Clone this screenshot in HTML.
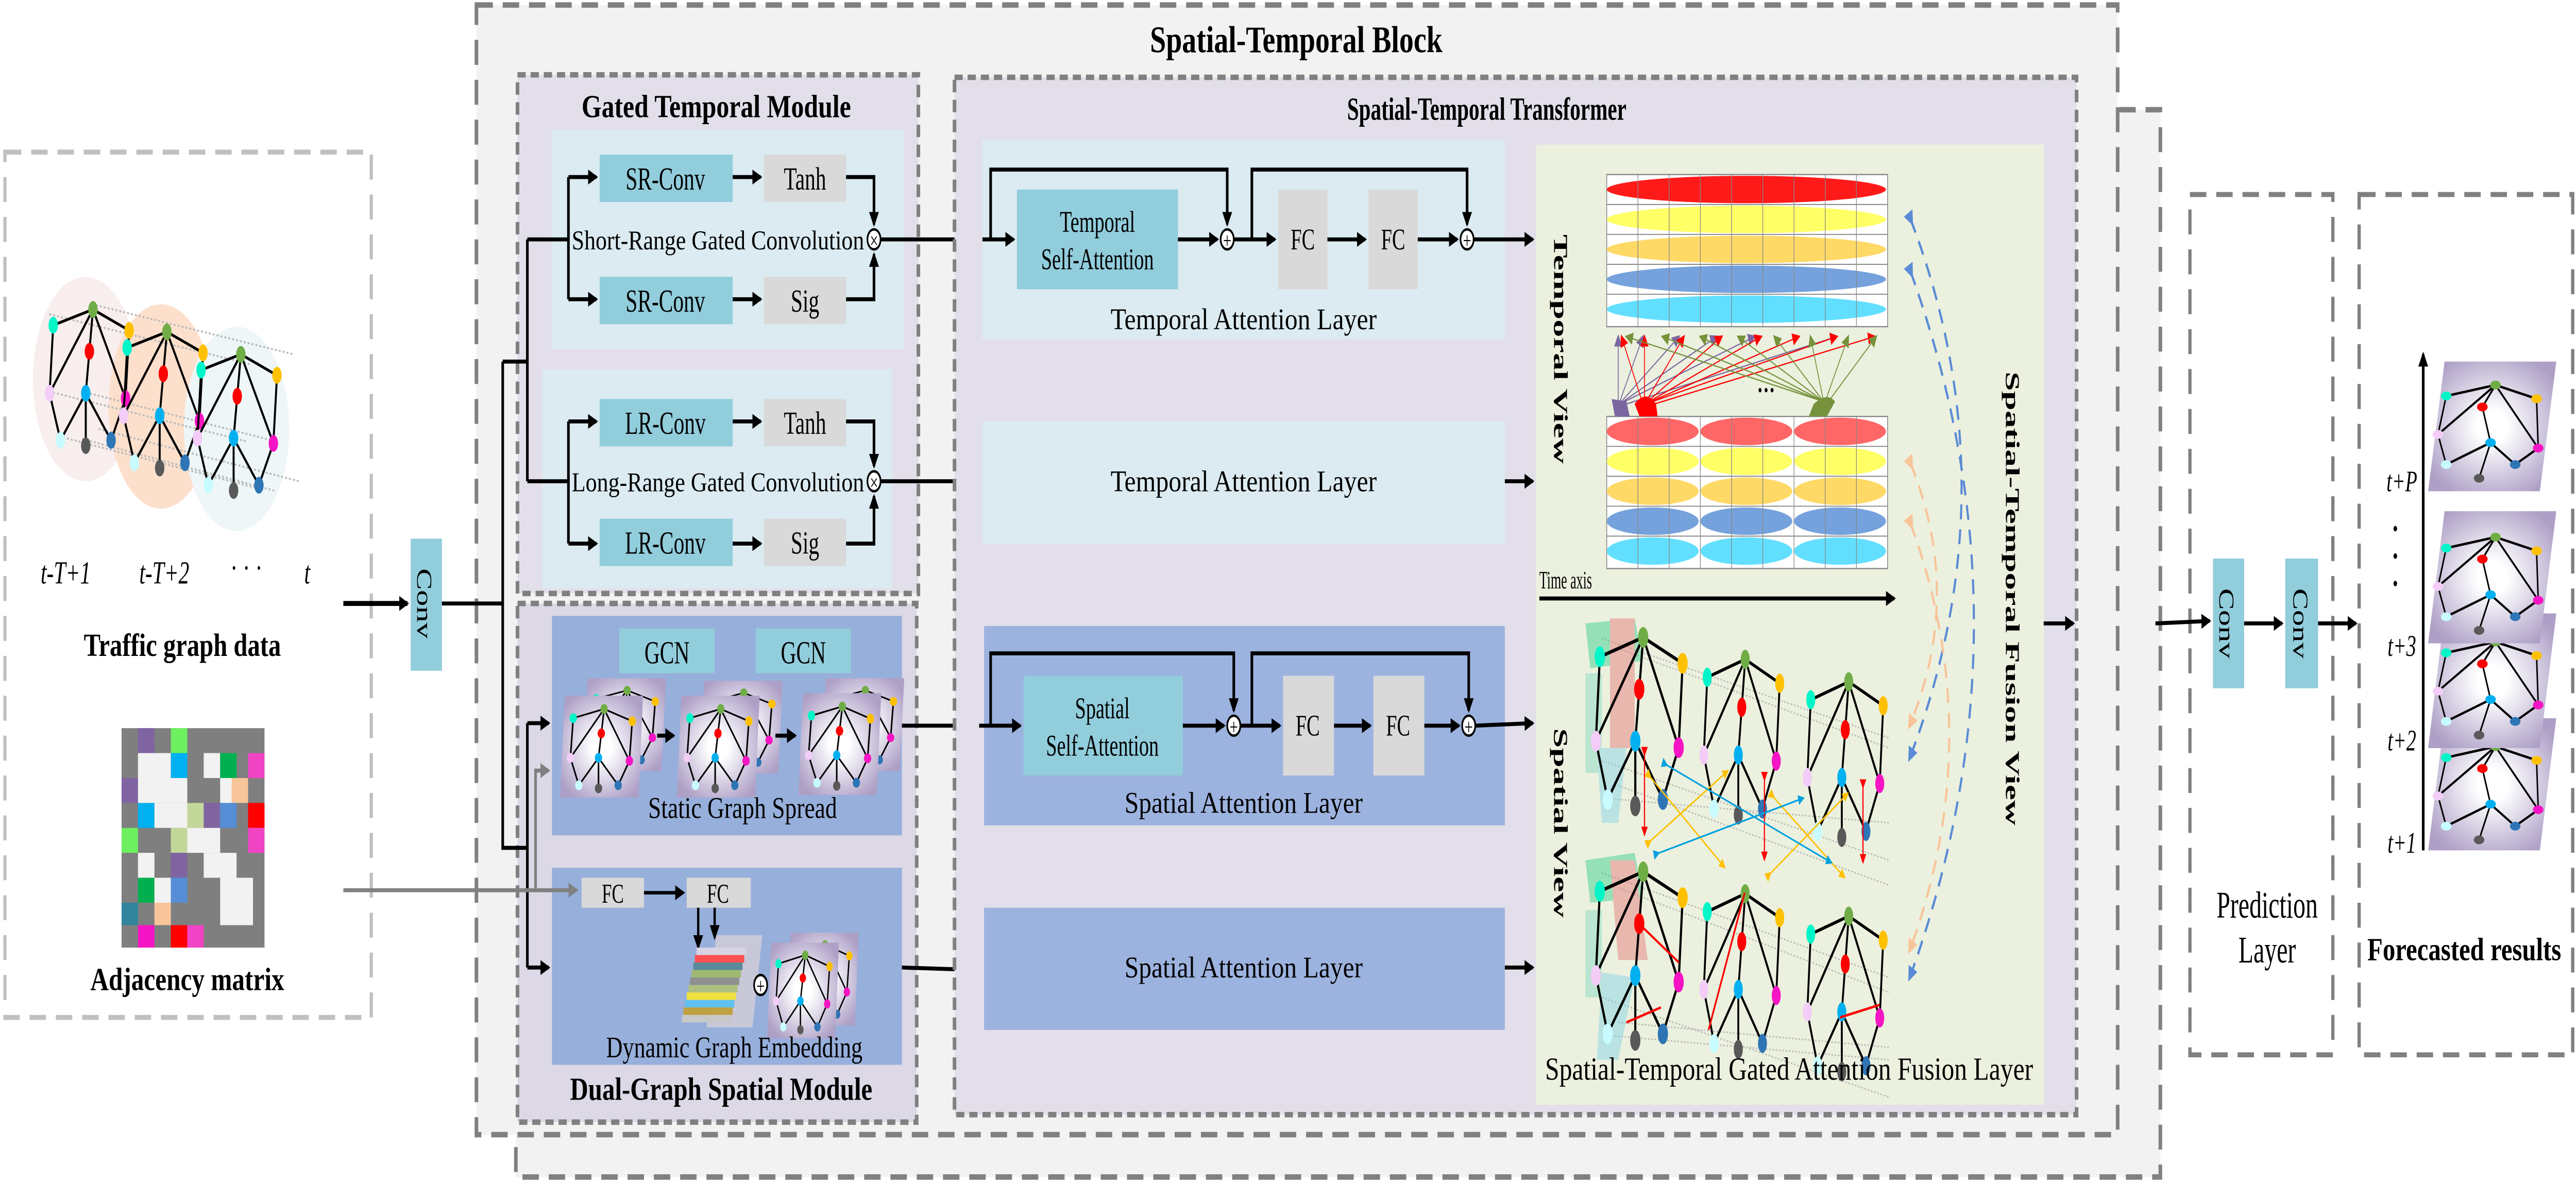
<!DOCTYPE html>
<html><head><meta charset="utf-8"><style>
html,body{margin:0;padding:0;background:#fff;width:100vw;height:100vh;overflow:hidden;}
svg{display:block;position:fixed;left:0;top:0;width:100vw;height:100vh;}
text{font-family:"Liberation Serif",serif;fill:#000;}
.b{font-weight:bold;}
</style></head><body>
<svg viewBox="0 0 1568 474" preserveAspectRatio="none" xmlns="http://www.w3.org/2000/svg">
<defs>
<marker id="ah" markerWidth="6" markerHeight="6" refX="5" refY="3" orient="auto" markerUnits="userSpaceOnUse"><path d="M0,0 L6,3 L0,6 z" fill="#000"/></marker>
<marker id="ahg" markerWidth="6" markerHeight="6" refX="5" refY="3" orient="auto" markerUnits="userSpaceOnUse"><path d="M0,0 L6,3 L0,6 z" fill="#808080"/></marker>
<marker id="ahr" markerWidth="4" markerHeight="4" refX="3.5" refY="2" orient="auto" markerUnits="userSpaceOnUse"><path d="M0,0 L4,2 L0,4 z" fill="#ff0000"/></marker>
<marker id="ahy" markerWidth="4" markerHeight="4" refX="3.5" refY="2" orient="auto" markerUnits="userSpaceOnUse"><path d="M0,0 L4,2 L0,4 z" fill="#ffc000"/></marker>
<marker id="ahc" markerWidth="4" markerHeight="4" refX="3.5" refY="2" orient="auto" markerUnits="userSpaceOnUse"><path d="M0,0 L4,2 L0,4 z" fill="#00a0e0"/></marker>
<marker id="ahb" markerWidth="6" markerHeight="6" refX="3" refY="3" orient="auto" markerUnits="userSpaceOnUse"><path d="M0,0 L6,3 L0,6 z" fill="#5b8bd6"/></marker>
<marker id="aho" markerWidth="6" markerHeight="6" refX="3" refY="3" orient="auto" markerUnits="userSpaceOnUse"><path d="M0,0 L6,3 L0,6 z" fill="#f8c49a"/></marker>
<marker id="ahp" markerWidth="5" markerHeight="5" refX="4" refY="2.5" orient="auto" markerUnits="userSpaceOnUse"><path d="M0,0 L5,2.5 L0,5 z" fill="#7b66a0"/></marker>
<marker id="ahrr" markerWidth="5" markerHeight="5" refX="4" refY="2.5" orient="auto" markerUnits="userSpaceOnUse"><path d="M0,0 L5,2.5 L0,5 z" fill="#ff0000"/></marker>
<marker id="ahgr" markerWidth="5" markerHeight="5" refX="4" refY="2.5" orient="auto" markerUnits="userSpaceOnUse"><path d="M0,0 L5,2.5 L0,5 z" fill="#76923c"/></marker>
<radialGradient id="card" cx="0.5" cy="0.5" r="0.6"><stop offset="0.2" stop-color="#ffffff"/><stop offset="1" stop-color="#ad9fc6"/></radialGradient>
<g id="G" stroke="#000" stroke-width="1.1" fill="none">
<path d="M4,8 L26,2 L46,10 M4,8 L2,34 M26,2 L2,34 M26,2 L24,18 L22,34 M26,2 L44,36 M46,10 L44,36 M2,34 L8,52 M22,34 L8,52 M22,34 L22,54 M22,34 L36,52 M44,36 L36,52"/>
<g stroke="none">
<ellipse cx="4" cy="8" rx="2.6" ry="3.2" fill="#00f5c8"/><ellipse cx="26" cy="2" rx="2.6" ry="3.2" fill="#70ad47"/><ellipse cx="46" cy="10" rx="2.6" ry="3.2" fill="#ffc000"/><ellipse cx="24" cy="18" rx="2.6" ry="3.2" fill="#ff0000"/><ellipse cx="2" cy="34" rx="2.6" ry="3.2" fill="#f3ccf7"/><ellipse cx="22" cy="34" rx="2.6" ry="3.2" fill="#00b0f0"/><ellipse cx="44" cy="36" rx="2.6" ry="3.2" fill="#f615c4"/><ellipse cx="8" cy="52" rx="2.6" ry="3.2" fill="#c8fbff"/><ellipse cx="22" cy="54" rx="2.6" ry="3.2" fill="#595959"/><ellipse cx="36" cy="52" rx="2.6" ry="3.2" fill="#2e75b6"/>
</g></g>
<g id="FG" stroke="#000" stroke-width="0.9" fill="none">
<path d="M10,8 L40,4 L65,9 M10,8 L5,22 L10,33 L37,25 L30,38 M40,4 L5,22 M40,4 L32,12 L37,25 L52,33 L66,27 L65,9 M40,4 L66,27"/>
<g stroke="none"><ellipse cx="10" cy="8" rx="3.2" ry="1.6" fill="#00f5c8"/><ellipse cx="40" cy="4" rx="3.2" ry="1.6" fill="#70ad47"/><ellipse cx="65" cy="9" rx="3.2" ry="1.6" fill="#ffc000"/><ellipse cx="32" cy="12" rx="3.2" ry="1.6" fill="#ff0000"/><ellipse cx="5" cy="22" rx="3.2" ry="1.6" fill="#f3ccf7"/><ellipse cx="37" cy="25" rx="3.2" ry="1.6" fill="#00b0f0"/><ellipse cx="66" cy="27" rx="3.2" ry="1.6" fill="#f615c4"/><ellipse cx="10" cy="33" rx="3.2" ry="1.6" fill="#c8fbff"/><ellipse cx="30" cy="38" rx="3.2" ry="1.6" fill="#595959"/><ellipse cx="52" cy="33" rx="3.2" ry="1.6" fill="#2e75b6"/></g></g>
<g id="CARD"><polygon points="3,0 56,0 53,60 0,60" fill="url(#card)"/><use href="#G" transform="translate(5,6) scale(0.95,0.9)"/></g>
</defs>

<rect x="314" y="44" width="1001" height="428" fill="#f2f2f2" stroke="#808080" stroke-width="2.2" stroke-dasharray="10,6"/>
<rect x="290" y="2" width="999" height="453" fill="#f2f2f2" stroke="#808080" stroke-width="2.2" stroke-dasharray="10,6"/>
<text x="789" y="21" font-size="15" class="b" text-anchor="middle" textLength="178" lengthAdjust="spacingAndGlyphs">Spatial-Temporal Block</text>

<rect x="3" y="61" width="223" height="347" fill="#fff" stroke="#c0c0c0" stroke-width="2" stroke-dasharray="10,6"/>
<ellipse cx="52" cy="152" rx="32" ry="41" fill="#f9eeee"/>
<ellipse cx="98" cy="163" rx="32" ry="41" fill="#fde0cc"/>
<ellipse cx="144" cy="172" rx="32" ry="41" fill="#eef6f8"/>
<g stroke="#bbb" stroke-width="0.8" stroke-dasharray="1.2,1.2">
<line x1="30" y1="126" x2="152" y2="146"/><line x1="56" y1="122" x2="178" y2="142"/><line x1="30" y1="157" x2="150" y2="177"/><line x1="50" y1="157" x2="168" y2="177"/><line x1="36" y1="175" x2="158" y2="196"/><line x1="50" y1="176" x2="168" y2="197"/><line x1="60" y1="172" x2="182" y2="193"/>
</g>
<use href="#G" transform="translate(28,122) scale(1.1,1.05)"/>
<use href="#G" transform="translate(73,131) scale(1.1,1.05)"/>
<use href="#G" transform="translate(118,140) scale(1.1,1.05)"/>
<text x="40" y="234" font-size="13" font-style="italic" text-anchor="middle">t-T+1</text>
<text x="100" y="234" font-size="13" font-style="italic" text-anchor="middle">t-T+2</text>
<text x="150" y="232" font-size="13" text-anchor="middle">· · ·</text>
<text x="187" y="234" font-size="13" font-style="italic" text-anchor="middle">t</text>
<text x="111" y="263" font-size="13" class="b" text-anchor="middle" textLength="120" lengthAdjust="spacingAndGlyphs">Traffic graph data</text>
<g>
<rect x="74" y="292" width="87" height="88" fill="#7f7f7f"/>
<rect x="84" y="292" width="10" height="10" fill="#8064a2"/><rect x="104" y="292" width="10" height="10" fill="#6ef060"/>
<rect x="84" y="302" width="20" height="10" fill="#f2f2f2"/><rect x="104" y="302" width="10" height="10" fill="#00b0f0"/><rect x="124" y="302" width="10" height="10" fill="#f2f2f2"/><rect x="134" y="302" width="10" height="10" fill="#00b050"/><rect x="151" y="302" width="10" height="10" fill="#f044c4"/>
<rect x="74" y="312" width="10" height="10" fill="#8064a2"/><rect x="84" y="312" width="30" height="10" fill="#f2f2f2"/><rect x="134" y="312" width="10" height="10" fill="#f2f2f2"/><rect x="141" y="312" width="10" height="10" fill="#f8c49a"/>
<rect x="84" y="322" width="10" height="10" fill="#00b0f0"/><rect x="94" y="322" width="20" height="10" fill="#f2f2f2"/><rect x="114" y="322" width="10" height="10" fill="#c4d79b"/><rect x="124" y="322" width="10" height="10" fill="#8064a2"/><rect x="134" y="322" width="10" height="10" fill="#558ed5"/><rect x="151" y="322" width="10" height="10" fill="#ff0000"/>
<rect x="74" y="332" width="10" height="10" fill="#6ef060"/><rect x="104" y="332" width="10" height="10" fill="#c4d79b"/><rect x="114" y="332" width="20" height="10" fill="#f2f2f2"/><rect x="151" y="332" width="10" height="10" fill="#f044c4"/>
<rect x="84" y="342" width="10" height="10" fill="#f2f2f2"/><rect x="104" y="342" width="10" height="10" fill="#8064a2"/><rect x="124" y="342" width="20" height="10" fill="#f2f2f2"/>
<rect x="84" y="352" width="10" height="10" fill="#00b050"/><rect x="94" y="352" width="10" height="10" fill="#f2f2f2"/><rect x="104" y="352" width="10" height="10" fill="#558ed5"/><rect x="134" y="352" width="20" height="10" fill="#f2f2f2"/>
<rect x="74" y="362" width="10" height="9" fill="#31859c"/><rect x="94" y="362" width="10" height="9" fill="#f8c49a"/><rect x="134" y="362" width="20" height="9" fill="#f2f2f2"/>
<rect x="84" y="371" width="10" height="9" fill="#f615c4"/><rect x="104" y="371" width="10" height="9" fill="#ff0000"/><rect x="114" y="371" width="10" height="9" fill="#f044c4"/>
</g>
<text x="114" y="397" font-size="13" class="b" text-anchor="middle" textLength="118" lengthAdjust="spacingAndGlyphs">Adjacency matrix</text>

<line x1="209" y1="242" x2="248" y2="242" stroke="#000" stroke-width="2" marker-end="url(#ah)"/>
<rect x="250" y="216" width="19" height="53" fill="#92cddc"/>
<text transform="translate(254,242) rotate(90)" font-size="13" text-anchor="middle">Conv</text>
<rect x="315" y="30" width="244" height="208" fill="#e3dfea" stroke="#808080" stroke-width="2.2" stroke-dasharray="5,3"/>
<text x="436" y="47" font-size="13" class="b" text-anchor="middle" textLength="164" lengthAdjust="spacingAndGlyphs">Gated Temporal Module</text>
<rect x="336" y="52" width="214" height="88" fill="#dbebf1"/>
<rect x="330" y="148" width="213" height="88" fill="#dbebf1"/>
<rect x="315" y="242" width="243" height="208" fill="#dcd8e6" stroke="#808080" stroke-width="2.2" stroke-dasharray="5,3"/>
<rect x="336" y="247" width="213" height="88" fill="#97afdb"/>
<rect x="336" y="348" width="213" height="79" fill="#97afdb"/>
<text x="439" y="441" font-size="13" class="b" text-anchor="middle" textLength="184" lengthAdjust="spacingAndGlyphs">Dual-Graph Spatial Module</text>

<g font-size="13">
<rect x="365" y="62" width="81" height="19" fill="#92cddc"/><text x="405" y="76" text-anchor="middle">SR-Conv</text>
<rect x="465" y="62" width="50" height="19" fill="#d9d9d9"/><text x="490" y="76" text-anchor="middle">Tanh</text>
<rect x="365" y="111" width="81" height="19" fill="#92cddc"/><text x="405" y="125" text-anchor="middle">SR-Conv</text>
<rect x="465" y="111" width="50" height="19" fill="#d9d9d9"/><text x="490" y="125" text-anchor="middle">Sig</text>
<text x="348" y="100" font-size="11" textLength="178" lengthAdjust="spacingAndGlyphs">Short-Range Gated Convolution</text>
<rect x="365" y="160" width="81" height="19" fill="#92cddc"/><text x="405" y="174" text-anchor="middle">LR-Conv</text>
<rect x="465" y="160" width="50" height="19" fill="#d9d9d9"/><text x="490" y="174" text-anchor="middle">Tanh</text>
<rect x="365" y="208" width="81" height="19" fill="#92cddc"/><text x="405" y="222" text-anchor="middle">LR-Conv</text>
<rect x="465" y="208" width="50" height="19" fill="#d9d9d9"/><text x="490" y="222" text-anchor="middle">Sig</text>
<text x="348" y="197" font-size="11" textLength="178" lengthAdjust="spacingAndGlyphs">Long-Range Gated Convolution</text>
</g>
<g stroke="#000" stroke-width="1.6" fill="none">
<path d="M346,71 L346,120" /><path d="M346,71 L363,71" marker-end="url(#ah)"/><path d="M346,120 L363,120" marker-end="url(#ah)"/>
<path d="M446,71 L463,71" marker-end="url(#ah)"/><path d="M446,120 L463,120" marker-end="url(#ah)"/>
<path d="M515,71 L532,71 L532,90" marker-end="url(#ah)"/><path d="M515,120 L532,120 L532,102" marker-end="url(#ah)"/>
<path d="M346,169 L346,218"/><path d="M346,169 L363,169" marker-end="url(#ah)"/><path d="M346,218 L363,218" marker-end="url(#ah)"/>
<path d="M446,169 L463,169" marker-end="url(#ah)"/><path d="M446,218 L463,218" marker-end="url(#ah)"/>
<path d="M515,169 L532,169 L532,187" marker-end="url(#ah)"/><path d="M515,218 L532,218 L532,199" marker-end="url(#ah)"/>
<path d="M269,242 L306,242"/><path d="M306,145 L306,340 L321,340"/><path d="M306,145 L321,145"/><path d="M321,96 L321,193"/><path d="M321,96 L346,96"/><path d="M321,193 L346,193"/>
<path d="M321,290 L321,388"/><path d="M321,290 L334,290" marker-end="url(#ah)"/><path d="M321,388 L334,388" marker-end="url(#ah)"/>
<path d="M536,96 L596,96" marker-end="url(#ah)"/><path d="M536,193 L596,193" marker-end="url(#ah)"/>
</g>
<circle cx="532" cy="96" r="4" fill="#fff" stroke="#000" stroke-width="1"/><text x="532" y="99.5" font-size="9" text-anchor="middle">×</text>
<circle cx="532" cy="193" r="4" fill="#fff" stroke="#000" stroke-width="1"/><text x="532" y="196.5" font-size="9" text-anchor="middle">×</text>
<g stroke="#808080" stroke-width="1.6" fill="none">
<path d="M209,357 L351,357" marker-end="url(#ahg)"/><path d="M326,357 L326,309 L334,309" marker-end="url(#ahg)"/>
</g>

<rect x="377" y="252" width="58" height="18" fill="#92cddc"/><text x="406" y="266" font-size="13" text-anchor="middle">GCN</text>
<rect x="460" y="252" width="58" height="18" fill="#92cddc"/><text x="489" y="266" font-size="13" text-anchor="middle">GCN</text>
<g transform="translate(355,272) scale(0.9,0.62)"><use href="#CARD"/></g>
<g transform="translate(341,279) scale(0.9,0.68)"><use href="#CARD"/></g>
<g transform="translate(426,273) scale(0.9,0.62)"><use href="#CARD"/></g>
<g transform="translate(412,279) scale(0.9,0.68)"><use href="#CARD"/></g>
<g transform="translate(500,272) scale(0.9,0.62)"><use href="#CARD"/></g>
<g transform="translate(486,278) scale(0.9,0.68)"><use href="#CARD"/></g>
<g stroke="#000" stroke-width="1.6"><path d="M400,295 L410,295" marker-end="url(#ah)"/><path d="M472,295 L484,295" marker-end="url(#ah)"/></g>
<text x="452" y="328" font-size="12" text-anchor="middle" textLength="115" lengthAdjust="spacingAndGlyphs">Static  Graph Spread</text>
<line x1="549" y1="291" x2="596" y2="291" stroke="#000" stroke-width="1.6" marker-end="url(#ah)"/>
<rect x="354" y="352" width="38" height="12" fill="#d9d9d9"/><text x="373" y="362" font-size="11" text-anchor="middle">FC</text>
<rect x="418" y="352" width="39" height="12" fill="#d9d9d9"/><text x="437" y="362" font-size="11" text-anchor="middle">FC</text>
<g stroke="#000" stroke-width="1.4"><path d="M392,358 L416,358" marker-end="url(#ah)"/><path d="M425,364 L425,380" marker-end="url(#ah)"/><path d="M435,364 L435,376" marker-end="url(#ah)"/></g>
<g>
<polygon points="436,375 464,375 458,412 430,412" fill="#c8c8d8"/>
<rect x="424" y="380" width="30" height="3" fill="#d8d4e4"/><rect x="423" y="383" width="30" height="3" fill="#ff5050"/><rect x="422" y="386" width="30" height="3" fill="#5a8a9a"/><rect x="421" y="389" width="30" height="3" fill="#9fb870"/><rect x="420" y="392" width="30" height="3" fill="#909090"/><rect x="419" y="395" width="30" height="3" fill="#aec080"/><rect x="418" y="398" width="30" height="3" fill="#f0e040"/><rect x="417" y="401" width="30" height="3" fill="#60c0f0"/><rect x="416" y="404" width="30" height="3" fill="#c0a040"/><rect x="415" y="407" width="30" height="3" fill="#c8c8c8"/>
</g>
<g transform="translate(479,374) scale(0.78,0.62)"><use href="#CARD"/></g>
<g transform="translate(467,378) scale(0.78,0.64)"><use href="#CARD"/></g>
<circle cx="463" cy="395" r="4" fill="#fff" stroke="#000" stroke-width="1"/><text x="463" y="398.5" font-size="9" text-anchor="middle">+</text>
<text x="447" y="424" font-size="12" text-anchor="middle" textLength="156" lengthAdjust="spacingAndGlyphs">Dynamic Graph Embedding</text>
<line x1="549" y1="388" x2="596" y2="389" stroke="#000" stroke-width="1.6" marker-end="url(#ah)"/>

<rect x="581" y="31" width="683" height="416" fill="#e3dfea" stroke="#808080" stroke-width="2.2" stroke-dasharray="5,3"/>
<text x="905" y="48" font-size="13" class="b" text-anchor="middle" textLength="170" lengthAdjust="spacingAndGlyphs">Spatial-Temporal Transformer</text>
<rect x="598" y="56" width="318" height="80" fill="#dbebf1"/>
<rect x="598" y="169" width="318" height="49" fill="#dbebf1"/>
<rect x="599" y="251" width="317" height="80" fill="#9db3df"/>
<rect x="599" y="364" width="317" height="49" fill="#9db3df"/>
<rect x="619" y="76" width="98" height="40" fill="#92cddc"/>
<text x="668" y="93" font-size="12" text-anchor="middle">Temporal</text><text x="668" y="108" font-size="12" text-anchor="middle">Self-Attention</text>
<rect x="778" y="76" width="30" height="40" fill="#d9d9d9"/><text x="793" y="100" font-size="12" text-anchor="middle">FC</text>
<rect x="833" y="76" width="30" height="40" fill="#d9d9d9"/><text x="848" y="100" font-size="12" text-anchor="middle">FC</text>
<g stroke="#000" stroke-width="1.6" fill="none">
<path d="M598,96 L617,96" marker-end="url(#ah)"/><path d="M603,96 L603,68 L747,68 L747,90" marker-end="url(#ah)"/>
<path d="M717,96 L741,96" marker-end="url(#ah)"/><path d="M751,96 L776,96" marker-end="url(#ah)"/><path d="M808,96 L831,96" marker-end="url(#ah)"/><path d="M863,96 L887,96" marker-end="url(#ah)"/>
<path d="M762,96 L762,68 L893,68 L893,90" marker-end="url(#ah)"/><path d="M897,96 L933,96" marker-end="url(#ah)"/>
<path d="M916,193 L933,193" marker-end="url(#ah)"/>
</g>
<circle cx="747" cy="96" r="4" fill="#fff" stroke="#000" stroke-width="1"/><text x="747" y="99.5" font-size="9" text-anchor="middle">+</text>
<circle cx="893" cy="96" r="4" fill="#fff" stroke="#000" stroke-width="1"/><text x="893" y="99.5" font-size="9" text-anchor="middle">+</text>
<text x="757" y="132" font-size="12" text-anchor="middle" textLength="162" lengthAdjust="spacingAndGlyphs">Temporal Attention Layer</text>
<text x="757" y="197" font-size="12" text-anchor="middle" textLength="162" lengthAdjust="spacingAndGlyphs">Temporal Attention Layer</text>
<rect x="623" y="271" width="97" height="40" fill="#92cddc"/>
<text x="671" y="288" font-size="12" text-anchor="middle">Spatial</text><text x="671" y="303" font-size="12" text-anchor="middle">Self-Attention</text>
<rect x="781" y="271" width="31" height="40" fill="#d9d9d9"/><text x="796" y="295" font-size="12" text-anchor="middle">FC</text>
<rect x="836" y="271" width="31" height="40" fill="#d9d9d9"/><text x="851" y="295" font-size="12" text-anchor="middle">FC</text>
<g stroke="#000" stroke-width="1.6" fill="none">
<path d="M596,291 L621,291" marker-end="url(#ah)"/><path d="M603,291 L603,262 L751,262 L751,285" marker-end="url(#ah)"/>
<path d="M720,291 L745,291" marker-end="url(#ah)"/><path d="M755,291 L779,291" marker-end="url(#ah)"/><path d="M812,291 L834,291" marker-end="url(#ah)"/><path d="M867,291 L888,291" marker-end="url(#ah)"/>
<path d="M762,291 L762,262 L894,262 L894,285" marker-end="url(#ah)"/><path d="M898,291 L933,290" marker-end="url(#ah)"/>
<path d="M916,388 L933,388" marker-end="url(#ah)"/>
</g>
<circle cx="751" cy="291" r="4" fill="#fff" stroke="#000" stroke-width="1"/><text x="751" y="294.5" font-size="9" text-anchor="middle">+</text>
<circle cx="894" cy="291" r="4" fill="#fff" stroke="#000" stroke-width="1"/><text x="894" y="294.5" font-size="9" text-anchor="middle">+</text>
<text x="757" y="326" font-size="12" text-anchor="middle" textLength="145" lengthAdjust="spacingAndGlyphs">Spatial Attention Layer</text>
<text x="757" y="392" font-size="12" text-anchor="middle" textLength="145" lengthAdjust="spacingAndGlyphs">Spatial Attention Layer</text>

<rect x="935" y="58" width="309" height="385" fill="#ebf1de"/>
<rect x="978" y="70" width="171" height="61" fill="#fff" stroke="#888" stroke-width="0.5"/>
<ellipse cx="1063" cy="76" rx="85" ry="5.5" fill="#ff1a1a"/>
<ellipse cx="1063" cy="88" rx="85" ry="5.5" fill="#ffff66"/>
<ellipse cx="1063" cy="100" rx="85" ry="5.5" fill="#ffd966"/>
<ellipse cx="1063" cy="112" rx="85" ry="5.5" fill="#75a2dc"/>
<ellipse cx="1063" cy="124" rx="85" ry="5.5" fill="#62dfff"/>
<g stroke="#888" stroke-width="0.4" fill="none">
<path d="M978,82 H1149 M978,94 H1149 M978,106 H1149 M978,118 H1149"/>
<path d="M997,70 V131 M1016,70 V131 M1035,70 V131 M1054,70 V131 M1073,70 V131 M1092,70 V131 M1111,70 V131 M1130,70 V131"/>
</g>
<rect x="978" y="167" width="171" height="61" fill="#fff" stroke="#888" stroke-width="0.5"/>
<g>
<ellipse cx="1006" cy="173" rx="28" ry="5.5" fill="#ff6666"/><ellipse cx="1063" cy="173" rx="28" ry="5.5" fill="#ff6666"/><ellipse cx="1120" cy="173" rx="28" ry="5.5" fill="#ff6666"/>
<ellipse cx="1006" cy="185" rx="28" ry="5.5" fill="#ffff66"/><ellipse cx="1063" cy="185" rx="28" ry="5.5" fill="#ffff66"/><ellipse cx="1120" cy="185" rx="28" ry="5.5" fill="#ffff66"/>
<ellipse cx="1006" cy="197" rx="28" ry="5.5" fill="#ffd966"/><ellipse cx="1063" cy="197" rx="28" ry="5.5" fill="#ffd966"/><ellipse cx="1120" cy="197" rx="28" ry="5.5" fill="#ffd966"/>
<ellipse cx="1006" cy="209" rx="28" ry="5.5" fill="#75a2dc"/><ellipse cx="1063" cy="209" rx="28" ry="5.5" fill="#75a2dc"/><ellipse cx="1120" cy="209" rx="28" ry="5.5" fill="#75a2dc"/>
<ellipse cx="1006" cy="221" rx="28" ry="5.5" fill="#62dfff"/><ellipse cx="1063" cy="221" rx="28" ry="5.5" fill="#62dfff"/><ellipse cx="1120" cy="221" rx="28" ry="5.5" fill="#62dfff"/>
</g>
<g stroke="#888" stroke-width="0.4" fill="none">
<path d="M978,179 H1149 M978,191 H1149 M978,203 H1149 M978,215 H1149"/>
<path d="M997,167 V228 M1016,167 V228 M1035,167 V228 M1054,167 V228 M1073,167 V228 M1092,167 V228 M1111,167 V228 M1130,167 V228"/>
</g>
<g stroke-width="0.5" fill="none">
<g stroke="#7b66a0"><path d="M985,162 L985,135" marker-end="url(#ahp)"/><path d="M986,161 L1000,135" marker-end="url(#ahp)"/><path d="M987,161 L1022,135" marker-end="url(#ahp)"/><path d="M988,161 L1045,135" marker-end="url(#ahp)"/><path d="M989,161 L1068,135" marker-end="url(#ahp)"/><path d="M990,162 L1118,135" marker-end="url(#ahp)"/></g>
<g stroke="#ff0000"><path d="M1000,162 L987,135" marker-end="url(#ahrr)"/><path d="M1001,162 L1001,135" marker-end="url(#ahrr)"/><path d="M1002,161 L1025,135" marker-end="url(#ahrr)"/><path d="M1003,161 L1048,135" marker-end="url(#ahrr)"/><path d="M1004,161 L1072,135" marker-end="url(#ahrr)"/><path d="M1005,161 L1095,135" marker-end="url(#ahrr)"/><path d="M1006,161 L1118,135" marker-end="url(#ahrr)"/><path d="M1007,162 L1141,135" marker-end="url(#ahrr)"/></g>
<g stroke="#76923c"><path d="M1110,161 L990,135" marker-end="url(#ahgr)"/><path d="M1110,161 L1012,135" marker-end="url(#ahgr)"/><path d="M1110,161 L1035,135" marker-end="url(#ahgr)"/><path d="M1110,161 L1058,135" marker-end="url(#ahgr)"/><path d="M1110,161 L1080,135" marker-end="url(#ahgr)"/><path d="M1110,161 L1102,135" marker-end="url(#ahgr)"/><path d="M1111,161 L1125,135" marker-end="url(#ahgr)"/><path d="M1113,161 L1142,135" marker-end="url(#ahgr)"/></g>
</g>
<path d="M981,160 L990,161 L992,167 L983,167 z" fill="#7b66a0"/>
<path d="M995,162 Q1002,156 1008,162 L1009,167 L998,167 z" fill="#ff0000"/>
<path d="M1104,162 Q1112,157 1117,161 L1112,167 L1101,167 z" fill="#76923c"/>
<text x="1075" y="160" font-size="11" class="b" text-anchor="middle">···</text>
<line x1="937" y1="240" x2="1153" y2="240" stroke="#000" stroke-width="1.6" marker-end="url(#ah)"/>
<text x="937" y="236" font-size="10" textLength="32" lengthAdjust="spacingAndGlyphs">Time axis</text>
<text transform="translate(946,140) rotate(90)" font-size="12" class="b" text-anchor="middle" textLength="92" lengthAdjust="spacingAndGlyphs">Temporal View</text>
<text transform="translate(946,330) rotate(90)" font-size="12" class="b" text-anchor="middle" textLength="76" lengthAdjust="spacingAndGlyphs">Spatial View</text>
<text transform="translate(1221,240) rotate(90)" font-size="12" class="b" text-anchor="middle" textLength="182" lengthAdjust="spacingAndGlyphs">Spatial-Temporal Fusion View</text>
<g stroke="#bbb" stroke-width="0.6" stroke-dasharray="1,1">
<path d="M975,256 L1150,296 M985,260 L1150,300 M975,305 L1150,345 M985,315 L1150,355 M975,320 L1150,330"/>
<path d="M975,350 L1150,392 M985,356 L1150,398 M975,400 L1150,440 M985,410 L1150,420 M975,415 L1150,425"/>
</g>
<g opacity="0.45">
<polygon points="965,250 995,248 1000,265 968,268" fill="#2ecc8a"/><polygon points="980,248 995,248 995,300 980,300" fill="#e57373"/><polygon points="965,270 975,270 975,310 965,310" fill="#7fd8c0"/><polygon points="972,300 990,300 985,330 975,330" fill="#7fd0e8"/>
<polygon points="965,345 995,342 1000,360 968,362" fill="#2ecc8a"/><polygon points="980,345 995,345 1003,385 985,385" fill="#e57373"/><polygon points="965,365 975,365 975,400 965,400" fill="#7fd8c0"/><polygon points="975,390 995,392 985,425 972,425" fill="#7fd0e8"/>
</g>
<use href="#G" transform="translate(969,253) scale(1.2,1.3)"/>
<use href="#G" transform="translate(1035,262) scale(1.05,1.2)"/>
<use href="#G" transform="translate(1098,271) scale(1.05,1.2)"/>
<use href="#G" transform="translate(969,347) scale(1.2,1.3)"/>
<use href="#G" transform="translate(1035,356) scale(1.05,1.2)"/>
<use href="#G" transform="translate(1098,365) scale(1.05,1.2)"/>
<g stroke="#ff0000" stroke-width="1"><path d="M997,370 L1022,386"/><path d="M990,410 L1011,404"/><path d="M1040,413 L1062,358"/><path d="M1120,408 L1144,403"/></g>
<g stroke-width="0.7" fill="none">
<g stroke="#ff0000"><path d="M1001,303 L1001,335" marker-start="url(#ahr)" marker-end="url(#ahr)"/><path d="M1074,313 L1074,345" marker-start="url(#ahr)" marker-end="url(#ahr)"/><path d="M1134,316 L1134,346" marker-start="url(#ahr)" marker-end="url(#ahr)"/></g>
<g stroke="#ffc000"><path d="M1005,312 L1050,348" marker-start="url(#ahy)" marker-end="url(#ahy)"/><path d="M1005,337 L1052,309" marker-start="url(#ahy)" marker-end="url(#ahy)"/><path d="M1080,320 L1123,352" marker-start="url(#ahy)" marker-end="url(#ahy)"/><path d="M1078,350 L1125,318" marker-start="url(#ahy)" marker-end="url(#ahy)"/></g>
<g stroke="#00a0e0"><path d="M1015,307 L1115,346" marker-start="url(#ahc)" marker-end="url(#ahc)"/><path d="M1010,342 L1098,320" marker-start="url(#ahc)" marker-end="url(#ahc)"/></g>
</g>
<g fill="none" stroke-width="1.3" stroke-dasharray="6,4">
<path d="M1163,88 Q1225,195 1163,303" stroke="#5b8bd6" marker-start="url(#ahb)" marker-end="url(#ahb)"/>
<path d="M1163,109 Q1240,250 1163,391" stroke="#5b8bd6" marker-start="url(#ahb)" marker-end="url(#ahb)"/>
<path d="M1163,186 Q1195,238 1163,290" stroke="#f8c49a" marker-start="url(#aho)" marker-end="url(#aho)"/>
<path d="M1163,210 Q1210,295 1163,380" stroke="#f8c49a" marker-start="url(#aho)" marker-end="url(#aho)"/>
</g>
<text x="1089" y="433" font-size="13" text-anchor="middle" textLength="297" lengthAdjust="spacingAndGlyphs">Spatial-Temporal Gated Attention Fusion Layer</text>

<line x1="1244" y1="250" x2="1262" y2="250" stroke="#000" stroke-width="1.6" marker-end="url(#ah)"/>
<rect x="1333" y="78" width="87" height="345" fill="#fff" stroke="#808080" stroke-width="2" stroke-dasharray="10,6"/>
<line x1="1312" y1="250" x2="1345" y2="249" stroke="#000" stroke-width="1.6" marker-end="url(#ah)"/>
<rect x="1347" y="224" width="19" height="52" fill="#92cddc"/>
<text transform="translate(1351,250) rotate(90)" font-size="13" text-anchor="middle">Conv</text>
<rect x="1391" y="224" width="20" height="52" fill="#92cddc"/>
<text transform="translate(1396,250) rotate(90)" font-size="13" text-anchor="middle">Conv</text>
<line x1="1366" y1="250" x2="1389" y2="250" stroke="#000" stroke-width="1.6" marker-end="url(#ah)"/>
<text x="1380" y="368" font-size="15" text-anchor="middle">Prediction</text>
<text x="1380" y="386" font-size="15" text-anchor="middle">Layer</text>
<rect x="1436" y="78" width="130" height="345" fill="#fff" stroke="#808080" stroke-width="2" stroke-dasharray="10,6"/>
<line x1="1411" y1="250" x2="1434" y2="250" stroke="#000" stroke-width="1.6" marker-end="url(#ah)"/>
<g>
<polygon points="1488,288 1556,288 1546,341 1478,341" fill="url(#card)"/><use href="#FG" transform="translate(1479,295) scale(1,1.1)"/>
<polygon points="1488,246 1556,246 1546,300 1478,300" fill="url(#card)"/><use href="#FG" transform="translate(1479,253) scale(1,1.1)"/>
<polygon points="1488,205 1556,205 1546,258 1478,258" fill="url(#card)"/><use href="#FG" transform="translate(1479,211) scale(1,1.1)"/>
<polygon points="1488,145 1556,145 1546,197 1478,197" fill="url(#card)"/><use href="#FG" transform="translate(1479,150) scale(1,1.1)"/>
</g>
<line x1="1475" y1="341" x2="1475" y2="142" stroke="#000" stroke-width="1.6" marker-end="url(#ah)"/>
<g font-size="12" font-style="italic" text-anchor="middle">
<text x="1462" y="197">t+P</text><text x="1462" y="263">t+3</text><text x="1462" y="301">t+2</text><text x="1462" y="342">t+1</text>
</g>
<circle cx="1458" cy="212" r="1.1" fill="#000"/><circle cx="1458" cy="223" r="1.1" fill="#000"/><circle cx="1458" cy="234" r="1.1" fill="#000"/>
<text x="1500" y="385" font-size="13" class="b" text-anchor="middle" textLength="118" lengthAdjust="spacingAndGlyphs">Forecasted results</text>
</svg>
</body></html>
